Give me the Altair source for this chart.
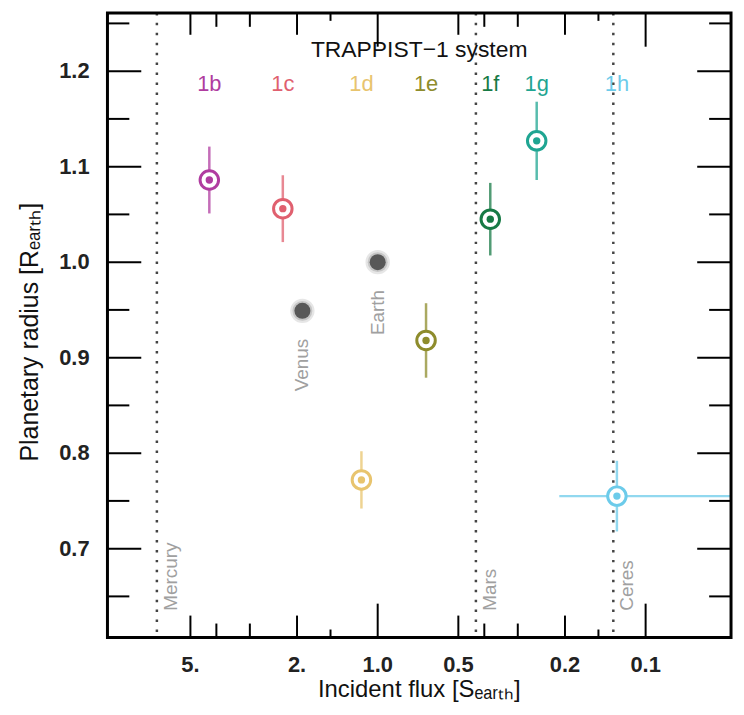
import math
import altair as alt
import pandas as pd

# ---- data ----
planets = ["1b", "1c", "1d", "1e", "1f", "1g", "1h"]
planet_flux = [4.25, 2.26, 1.15, 0.66, 0.38, 0.255, 0.128]
planet_radius = [1.086, 1.056, 0.772, 0.918, 1.045, 1.127, 0.755]
planet_radius_err = [0.035, 0.035, 0.030, 0.039, 0.038, 0.041, 0.037]
planet_colors = ["#b03ca0", "#e0606f", "#e8c46e", "#8e8c2c", "#177a45", "#1fa592", "#6ccbea"]

h_err_planet = ["1h"]
h_err_flux_hi = [0.21]
h_err_flux_lo = [0.045]
h_err_radius = [0.755]

solar_names = ["Venus", "Earth"]
solar_flux = [1.91, 1.0]
solar_radius = [0.949, 1.0]

ref_names = ["Mercury", "Mars", "Ceres"]
ref_flux = [6.67, 0.43, 0.132]
ref_label_radius = 0.635

planet_label_radius = 1.187

title_text = ["TRAPPIST\u22121 system"]
title_flux = [0.70]
title_radius = [1.222]

x_title = ["Incident flux [S\u2091\u2090\u1d63\u209c\u2095]"]
y_title = ["Planetary radius [R\u2091\u2090\u1d63\u209c\u2095]"]

x_label_values = [5, 2, 1, 0.5, 0.2, 0.1]
x_label_texts = ["5.", "2.", "1.0", "0.5", "0.2", "0.1"]
x_tick_values = [5, 4, 3, 2, 1.5, 1, 0.5, 0.4, 0.3, 0.2, 0.15, 0.1]
y_label_values = [0.7, 0.8, 0.9, 1.0, 1.1, 1.2]
y_label_texts = ["0.7", "0.8", "0.9", "1.0", "1.1", "1.2"]
y_tick_values = [0.65, 0.7, 0.75, 0.8, 0.85, 0.9, 0.95, 1.0, 1.05, 1.1, 1.15, 1.2, 1.25]

x_domain = [0.048, 10.2]
y_domain = [0.607, 1.261]

# ---- tables ----
df_pl = pd.DataFrame({
    "planet": planets,
    "flux": planet_flux,
    "radius": planet_radius,
    "lo": [r - e for r, e in zip(planet_radius, planet_radius_err)],
    "hi": [r + e for r, e in zip(planet_radius, planet_radius_err)],
    "label_radius": [planet_label_radius] * len(planets),
})
df_h = pd.DataFrame({"planet": h_err_planet, "fhi": h_err_flux_hi, "flo": h_err_flux_lo, "radius": h_err_radius})
df_sol = pd.DataFrame({"name": solar_names, "flux": solar_flux, "radius": solar_radius})
df_ref = pd.DataFrame({"name": ref_names, "flux": ref_flux, "radius": [ref_label_radius] * len(ref_names)})
df_title = pd.DataFrame({"text": title_text, "flux": title_flux, "radius": title_radius})
df_xt = pd.DataFrame({"v": x_tick_values})
df_yt = pd.DataFrame({"v": y_tick_values})
df_xl = pd.DataFrame({"v": x_label_values, "t": x_label_texts})
df_yl = pd.DataFrame({"v": y_label_values, "t": y_label_texts})
df_xtitle = pd.DataFrame({"t": x_title})
df_ytitle = pd.DataFrame({"t": y_title})
df_frame = pd.DataFrame({"k": [0]})

W, H = 627, 628
FONT = "Liberation Sans"

xs = alt.Scale(type="log", domain=x_domain, reverse=True, nice=False)
ys = alt.Scale(domain=y_domain, zero=False, nice=False)
cs = alt.Scale(domain=planets, range=planet_colors)

X = lambda f: alt.X(f, scale=xs, axis=None)
Y = lambda f: alt.Y(f, scale=ys, axis=None)

# pixel -> data conversion for inward tick lengths
y_per_px = (y_domain[1] - y_domain[0]) / H
px_per_decade = W / math.log10(x_domain[1] / x_domain[0])
x_left_log = math.log10(x_domain[1])

x_len = ("(datum.v == 1 || datum.v == 0.1) ? 34 : "
         "((datum.v == 1.5 || datum.v == 0.15) ? 8 : "
         "((datum.v == 4 || datum.v == 3 || datum.v == 0.4 || datum.v == 0.3) ? 14 : 22))")
y_len = "abs(datum.v * 10 - round(datum.v * 10)) < 0.01 ? 34 : 22"

# ---- frame, ticks, tick labels, axis titles ----
frame = alt.Chart(df_frame).mark_rect(filled=False, stroke="black", strokeWidth=3).encode(
    x=alt.value(0), x2=alt.value(W), y=alt.value(0), y2=alt.value(H))

xt = alt.Chart(df_xt).transform_calculate(
    L=x_len,
    yb0=f"{y_domain[0]}",
    yb1=f"{y_domain[0]} + datum.L * {y_per_px}",
    yt0=f"{y_domain[1]}",
    yt1=f"{y_domain[1]} - datum.L * {y_per_px}",
)
xt_bottom = xt.mark_rule(strokeWidth=2, color="black").encode(x=X("v:Q"), y=Y("yb0:Q"), y2="yb1:Q")
xt_top = xt.mark_rule(strokeWidth=2, color="black").encode(x=X("v:Q"), y=Y("yt0:Q"), y2="yt1:Q")

yt = alt.Chart(df_yt).transform_calculate(
    L=y_len,
    xl0=f"{x_domain[1]}",
    xl1=f"pow(10, {x_left_log} - datum.L / {px_per_decade})",
    xr0=f"{x_domain[0]}",
    xr1=f"{x_domain[0]} * pow(10, datum.L / {px_per_decade})",
)
yt_left = yt.mark_rule(strokeWidth=2, color="black").encode(y=Y("v:Q"), x=X("xl0:Q"), x2="xl1:Q")
yt_right = yt.mark_rule(strokeWidth=2, color="black").encode(y=Y("v:Q"), x=X("xr0:Q"), x2="xr1:Q")

xl = alt.Chart(df_xl).mark_text(fontSize=22, fontWeight="bold", color="#222", font=FONT,
                                 align="center", baseline="middle").encode(
    x=X("v:Q"), y=alt.value(H + 28), text="t:N")
yl = alt.Chart(df_yl).mark_text(fontSize=22, fontWeight="bold", color="#222", font=FONT,
                                 align="right", baseline="middle").encode(
    y=Y("v:Q"), x=alt.value(-18), text="t:N")
xtitle = alt.Chart(df_xtitle).mark_text(fontSize=24, color="#111", font=FONT, align="center",
                                        baseline="middle").encode(
    x=alt.value(W / 2), y=alt.value(H + 53), text="t:N")
ytitle = alt.Chart(df_ytitle).mark_text(fontSize=25, color="#111", font=FONT, align="center",
                                        baseline="middle", angle=270).encode(
    x=alt.value(-78), y=alt.value(321), text="t:N")

# ---- data layers ----
ref_lines = alt.Chart(df_ref).mark_rule(strokeDash=[2.5, 7.5], strokeWidth=2.5, color="#444").encode(
    x=X("flux:Q"))

ref_text = alt.Chart(df_ref).mark_text(angle=270, align="left", baseline="top", dy=5, fontSize=19,
                                       color="#a0a0a0", font=FONT).encode(
    x=X("flux:Q"), y=Y("radius:Q"), text="name:N")

err = alt.Chart(df_pl).mark_rule(strokeWidth=2.5, opacity=0.75).encode(
    x=X("flux:Q"), y=Y("lo:Q"), y2="hi:Q",
    color=alt.Color("planet:N", scale=cs, legend=None))

herr = alt.Chart(df_h).mark_rule(strokeWidth=2.5, opacity=0.75, clip=True).encode(
    x=X("fhi:Q"), x2="flo:Q", y=Y("radius:Q"),
    color=alt.Color("planet:N", scale=cs, legend=None))

ring = alt.Chart(df_pl).mark_point(shape="circle", filled=False, fill="white", fillOpacity=1,
                                   strokeWidth=3, size=346, opacity=1).encode(
    x=X("flux:Q"), y=Y("radius:Q"),
    stroke=alt.Stroke("planet:N", scale=cs, legend=None))

dot = alt.Chart(df_pl).mark_circle(size=55, opacity=1).encode(
    x=X("flux:Q"), y=Y("radius:Q"),
    color=alt.Color("planet:N", scale=cs, legend=None))

halo = alt.Chart(df_sol).mark_circle(size=600, color="#c8c8c8", opacity=0.45).encode(
    x=X("flux:Q"), y=Y("radius:Q"))
halo2 = alt.Chart(df_sol).mark_circle(size=400, color="#b0b0b0", opacity=0.6).encode(
    x=X("flux:Q"), y=Y("radius:Q"))
core = alt.Chart(df_sol).mark_circle(size=260, color="#585858", opacity=1).encode(
    x=X("flux:Q"), y=Y("radius:Q"))
sol_text = alt.Chart(df_sol).mark_text(angle=270, align="right", baseline="middle", dx=-28, fontSize=19,
                                       color="#a0a0a0", font=FONT).encode(
    x=X("flux:Q"), y=Y("radius:Q"), text="name:N")

pl_text = alt.Chart(df_pl).mark_text(fontSize=22, baseline="middle", align="center", font=FONT).encode(
    x=X("flux:Q"), y=Y("label_radius:Q"), text="planet:N",
    color=alt.Color("planet:N", scale=cs, legend=None))

title = alt.Chart(df_title).mark_text(fontSize=23, baseline="middle", align="center", color="#111", font=FONT).encode(
    x=X("flux:Q"), y=Y("radius:Q"), text="text:N")

chart = alt.layer(
    ref_lines, ref_text, err, herr, halo, halo2, core, sol_text, ring, dot, pl_text, title,
    xl, yl, xtitle, ytitle, xt_bottom, xt_top, yt_left, yt_right, frame
).properties(
    width=W, height=H,
    padding={"left": 100, "top": 3, "right": 5, "bottom": 68},
    autosize=alt.AutoSizeParams(type="none"),
).configure_view(strokeWidth=0).configure(font=FONT, background="white")

chart.save("out.html", embed_options={"renderer": "svg", "actions": False})
